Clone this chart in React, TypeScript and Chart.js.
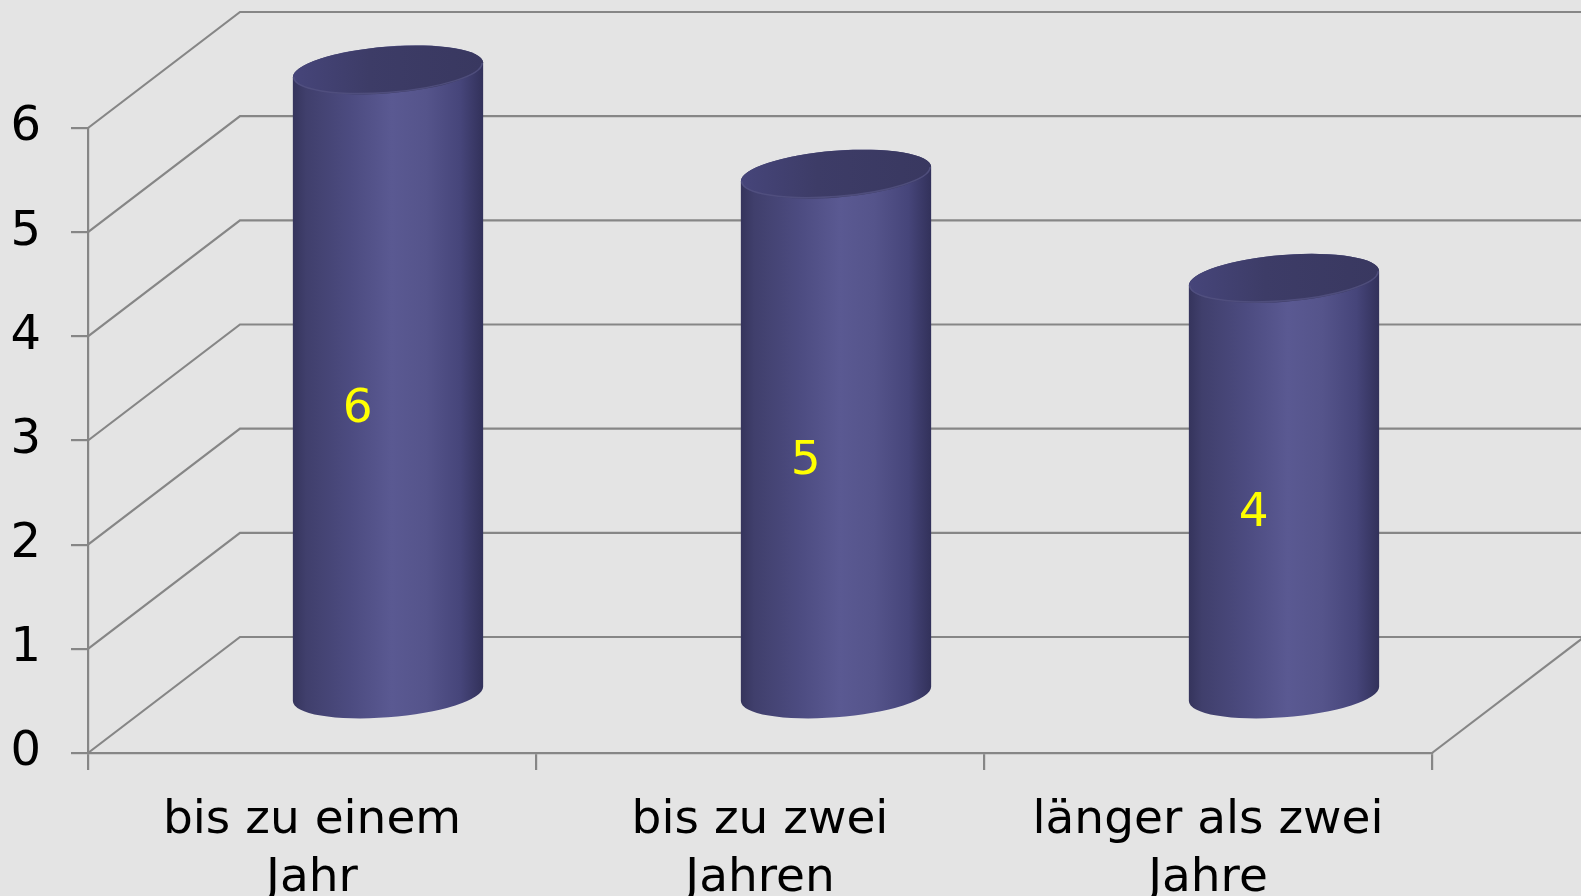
import React, { useEffect, useRef } from "react";
import { Chart, registerables } from "chart.js";

Chart.register(...registerables);

const categories: string[][] = [
  ["bis zu einem", "Jahr"],
  ["bis zu zwei", "Jahren"],
  ["länger als zwei", "Jahre"],
];
const values: number[] = [6, 5, 4];
const yTicks: number[] = [0, 1, 2, 3, 4, 5, 6];

const DEPTH_X = 152;
const DEPTH_Y = -116;
const GRID = "#868686";
const BG = "#e4e4e4";
const FONT = "'DejaVu Sans', Verdana, sans-serif";

const wallPlugin = {
  id: "wall3d",
  beforeDatasetsDraw(chart: any) {
    const { ctx, chartArea, scales } = chart;
    const y = scales.y;
    ctx.save();
    ctx.strokeStyle = GRID;
    ctx.lineWidth = 2.2;
    for (const v of yTicks) {
      const py = y.getPixelForValue(v);
      ctx.beginPath();
      ctx.moveTo(chartArea.left, py);
      ctx.lineTo(chartArea.left + DEPTH_X, py + DEPTH_Y);
      ctx.lineTo(chart.width + 5, py + DEPTH_Y);
      ctx.stroke();
    }
    const y0 = y.getPixelForValue(0);
    ctx.beginPath();
    ctx.moveTo(chartArea.right, y0);
    ctx.lineTo(chartArea.right + DEPTH_X, y0 + DEPTH_Y);
    ctx.stroke();
    ctx.restore();
  },
};

const cylinderPlugin = {
  id: "cylinders",
  afterDatasetsDraw(chart: any) {
    const { ctx } = chart;
    const meta = chart.getDatasetMeta(0);
    const theta = -0.08;
    meta.data.forEach((bar: any, i: number) => {
      const p = bar.getProps(["x", "y", "base", "width"], true);
      const cx = p.x + DEPTH_X / 2;
      const top = p.y + DEPTH_Y / 2;
      const bot = p.base + DEPTH_Y / 2;
      const a = p.width / 2;
      const b = a * 0.245;
      const tr = Math.atan(-(b / a) * Math.tan(theta));
      const tl = tr + Math.PI;
      const pt = (cy: number, t: number) => ({
        x: cx + a * Math.cos(t) * Math.cos(theta) - b * Math.sin(t) * Math.sin(theta),
        y: cy + a * Math.cos(t) * Math.sin(theta) + b * Math.sin(t) * Math.cos(theta),
      });
      const topR = pt(top, tr);
      const botR = pt(bot, tr);
      const topL = pt(top, tl);

      ctx.save();
      const g = ctx.createLinearGradient(cx - a, 0, cx + a, 0);
      g.addColorStop(0, "#35345c");
      g.addColorStop(0.07, "#403f6c");
      g.addColorStop(0.3, "#4c4b80");
      g.addColorStop(0.52, "#5a5992");
      g.addColorStop(0.7, "#55548b");
      g.addColorStop(0.88, "#46457a");
      g.addColorStop(1, "#32315a");
      ctx.beginPath();
      ctx.moveTo(topR.x, topR.y);
      ctx.lineTo(botR.x, botR.y);
      ctx.ellipse(cx, bot, a, b, theta, tr, tl, false);
      ctx.lineTo(topL.x, topL.y);
      ctx.ellipse(cx, top, a, b, theta, tl, tr + 2 * Math.PI, false);
      ctx.closePath();
      ctx.fillStyle = g;
      ctx.fill();

      const gt = ctx.createLinearGradient(cx - a, top, cx + a, top);
      gt.addColorStop(0, "#46457a");
      gt.addColorStop(0.4, "#3d3c67");
      gt.addColorStop(1, "#393860");
      ctx.beginPath();
      ctx.ellipse(cx, top, a, b, theta, 0, Math.PI * 2);
      ctx.fillStyle = gt;
      ctx.fill();
      ctx.strokeStyle = "rgba(82,81,128,0.85)";
      ctx.lineWidth = 1.5;
      ctx.beginPath();
      ctx.ellipse(cx, top, a - 1, b - 1, theta, tr, tl, false);
      ctx.stroke();

      ctx.fillStyle = "#ffff00";
      ctx.font = `47px ${FONT}`;
      ctx.textAlign = "center";
      ctx.textBaseline = "middle";
      const lx = p.x + DEPTH_X * 0.3;
      const ly = (p.y + p.base) / 2 + DEPTH_Y * 0.26;
      ctx.fillText(String(values[i]), lx, ly);
      ctx.restore();
    });
  },
};

export default function App() {
  const ref = useRef<HTMLCanvasElement | null>(null);
  useEffect(() => {
    document.body.style.margin = "0";
    document.body.style.background = BG;
    const canvas = ref.current!;
    const chart = new Chart(canvas, {
      type: "bar",
      data: {
        labels: categories,
        datasets: [
          {
            data: values,
            backgroundColor: "rgba(0,0,0,0)",
            borderWidth: 0,
            barPercentage: 0.426,
            categoryPercentage: 1,
          },
        ],
      },
      options: {
        animation: false,
        responsive: false,
        maintainAspectRatio: false,
        layout: { padding: { top: 128, right: 149, left: 0, bottom: 0 } },
        plugins: { legend: { display: false }, tooltip: { enabled: false } },
        scales: {
          x: {
            offset: true,
            grid: {
              offset: true,
              drawOnChartArea: false,
              drawTicks: true,
              tickLength: 17,
              color: GRID,
              lineWidth: 2.2,
            },
            border: { color: GRID, width: 2.2 },
            ticks: {
              color: "#000",
              font: { family: FONT, size: 47, lineHeight: 1.25 },
              padding: 21,
              maxRotation: 0,
              autoSkip: false,
            },
            afterFit(scale: any) {
              scale.height = 143;
            },
          },
          y: {
            min: 0,
            max: 6,
            grid: {
              drawOnChartArea: false,
              drawTicks: true,
              tickLength: 17,
              color: GRID,
              lineWidth: 2.2,
            },
            border: { color: GRID, width: 2.2 },
            ticks: {
              stepSize: 1,
              color: "#000",
              font: { family: FONT, size: 48 },
              padding: 30,
            },
            afterFit(scale: any) {
              scale.width = 88;
            },
          },
        },
      },
      plugins: [wallPlugin, cylinderPlugin],
    });
    return () => chart.destroy();
  }, []);
  return (
    <div style={{ width: 1581, height: 896, background: BG }}>
      <canvas ref={ref} width={1581} height={896} style={{ display: "block" }} />
    </div>
  );
}
